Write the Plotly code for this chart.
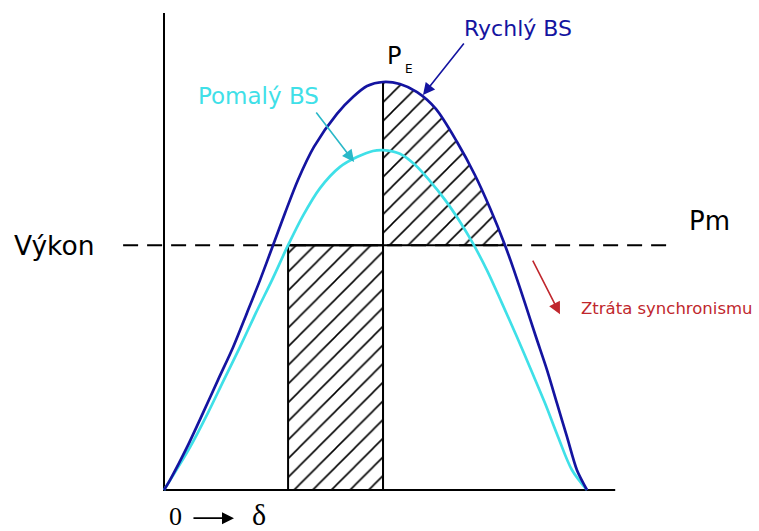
import plotly.graph_objects as go

# Power-angle characteristic: load angle delta (deg) vs. electrical power (p.u.)
delta_fast = [0, 2.6, 9.8, 16.6, 23.0, 29.4, 35.3, 40.9, 46.4, 51.5, 57.0, 63.8, 73.6, 80.4,
              86.4, 93.2, 100.4, 107.7, 115.7, 124.7, 132.3, 138.7, 145.1, 148.9, 153.6,
              158.3, 163.0, 167.2, 171.5, 175.7, 180]
power_fast = [0, 0.025, 0.105, 0.189, 0.270, 0.350, 0.434, 0.515, 0.600, 0.679, 0.760, 0.841,
              0.922, 0.963, 0.990, 1.000, 0.995, 0.975, 0.934, 0.853, 0.772, 0.691, 0.600,
              0.539, 0.458, 0.375, 0.294, 0.213, 0.130, 0.049, 0]

delta_slow = [0, 11.1, 18.7, 25.5, 32.3, 39.1, 46.0, 52.8, 59.1, 66.4, 74.9, 82.1, 88.9, 93.2,
              100.4, 106.8, 113.2, 119.6, 126.0, 131.1, 137.4, 143.8, 150.2, 156.2, 162.1,
              167.7, 173.6, 180]
power_slow = [0, 0.105, 0.189, 0.270, 0.350, 0.434, 0.515, 0.600, 0.672, 0.740, 0.792, 0.816,
              0.831, 0.833, 0.824, 0.797, 0.757, 0.711, 0.657, 0.608, 0.539, 0.458, 0.375,
              0.294, 0.213, 0.130, 0.049, 0]

P_M = 0.60            # mechanical power level
DELTA_0 = 52.8        # initial operating angle (slow curve crossing)
DELTA_E = 93.2        # angle at which P_E is reached
DELTA_CROSS = 145.1   # fast curve falls back to P_m
P_PEAK = 1.0
DELTA_AXIS_END = 192.0
P_AXIS_TOP = 1.169
PM_LINE_SPAN = [-17.4, 215.3]

BLUE = "#1414a0"
CYAN = "#3fe0e8"
RED = "#c0272d"
FONT = "DejaVu Sans"

fig = go.Figure()

hatch = dict(shape="/", size=13.2, solidity=0.12, fgcolor="black", bgcolor="white",
             fillmode="replace")

# accelerating area (rectangle below P_m)
fig.add_trace(go.Scatter(
    x=[DELTA_0, DELTA_E, DELTA_E, DELTA_0, DELTA_0],
    y=[0, 0, P_M, P_M, 0],
    mode="lines", fill="toself", fillpattern=hatch, fillcolor="white",
    line=dict(color="black", width=2)))

# decelerating area (under fast curve, above P_m)
upper = [(d, p) for d, p in zip(delta_fast, power_fast) if DELTA_E <= d <= DELTA_CROSS]
fig.add_trace(go.Scatter(
    x=[DELTA_E] + [d for d, _ in upper] + [DELTA_E],
    y=[P_M] + [p for _, p in upper] + [P_M],
    mode="lines", fill="toself", fillpattern=hatch, fillcolor="white",
    line=dict(width=0)))

# P_m dashed line
fig.add_trace(go.Scatter(x=PM_LINE_SPAN, y=[P_M, P_M], mode="lines",
                         line=dict(color="black", width=2, dash="15px,9px")))
fig.add_trace(go.Scatter(x=[DELTA_0, DELTA_CROSS], y=[P_M, P_M], mode="lines",
                         line=dict(color="black", width=2)))

# vertical line at delta_E
fig.add_trace(go.Scatter(x=[DELTA_E, DELTA_E], y=[0, P_PEAK], mode="lines",
                         line=dict(color="black", width=2)))

# axes
fig.add_trace(go.Scatter(x=[0, 0, DELTA_AXIS_END], y=[P_AXIS_TOP, 0, 0], mode="lines",
                         line=dict(color="black", width=2)))

# curves
fig.add_trace(go.Scatter(x=delta_slow, y=power_slow, mode="lines", line_shape="spline",
                         line=dict(color=CYAN, width=2.7, smoothing=0.9)))
fig.add_trace(go.Scatter(x=delta_fast, y=power_fast, mode="lines", line_shape="spline",
                         line=dict(color=BLUE, width=2.7, smoothing=0.8)))

texts = [
    dict(x=97.9, y=1.064, text="P", size=24, color="black", family=FONT),
    dict(x=104.3, y=1.031, text="E", size=12, color="black", family=FONT),
    dict(x=150.6, y=1.132, text="Rychlý BS", size=22, color=BLUE, family=FONT),
    dict(x=40.4, y=0.966, text="Pomalý BS", size=23, color=CYAN, family=FONT),
    dict(x=-46.8, y=0.600, text="Výkon", size=26.5, color="black", family=FONT),
    dict(x=232.3, y=0.659, text="Pm", size=26, color="black", family=FONT),
    dict(x=214.0, y=0.444, text="Ztráta synchronismu", size=16.5, color=RED, family=FONT),
    dict(x=5.1, y=-0.064, text="0", size=26, color="black", family="Liberation Serif"),
    dict(x=40.4, y=-0.061, text="δ", size=30, color="black", family="Liberation Serif"),
]
annotations = [dict(x=t["x"], y=t["y"], xref="x", yref="y", text=t["text"], showarrow=False,
                    xanchor="center", yanchor="middle",
                    font=dict(size=t["size"], color=t["color"], family=t["family"]))
               for t in texts]

arrows = [
    ((128.1, 1.098), (110.2, 0.968), BLUE),
    ((64.3, 0.929), (80.9, 0.804), "#2ab8c8"),
    ((156.6, 0.566), (168.5, 0.431), RED),
    ((11.9, -0.069), (29.8, -0.069), "black"),
]
for (tx, ty), (hx, hy), col in arrows:
    annotations.append(dict(x=hx, y=hy, ax=tx, ay=ty, xref="x", yref="y", axref="x", ayref="y",
                            text="", showarrow=True, arrowhead=2, arrowsize=1.5,
                            arrowwidth=1.6, arrowcolor=col, standoff=0))

fig.update_layout(
    width=759, height=531, margin=dict(l=0, r=0, t=0, b=0),
    paper_bgcolor="white", plot_bgcolor="white", showlegend=False,
    xaxis=dict(range=[-69.787, 253.191], visible=False, fixedrange=True),
    yaxis=dict(range=[-0.10049, 1.20098], visible=False, fixedrange=True),
    annotations=annotations,
)

fig.write_html("out.html")
